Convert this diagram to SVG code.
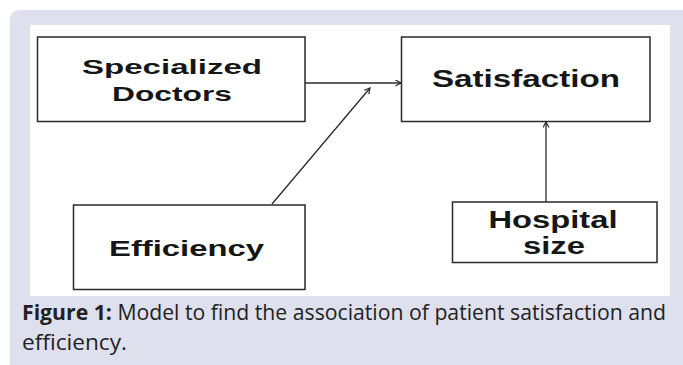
<svg xmlns="http://www.w3.org/2000/svg" width="683" height="365" viewBox="0 0 683 365">
  <defs>
    <style>
      .box { fill: #ffffff; stroke: #2a2a2a; stroke-width: 1.5; }
      .lbl { font-family: "Liberation Sans", Arial, sans-serif; font-weight: bold; fill: #161616; text-anchor: middle; }
      .edge { fill: none; stroke: #2a2a2a; stroke-width: 1.3; }
      .cap { font-family: "Open Sans", "Noto Sans", sans-serif; font-size: 21px; fill: #222222; }
    </style>
    <marker id="arrow" markerWidth="8" markerHeight="8" refX="6" refY="3.5" orient="auto" markerUnits="userSpaceOnUse">
      <path d="M0.5,0.5 L6,3.5 L0.5,6.5" fill="none" stroke="#2a2a2a" stroke-width="1.2"/>
    </marker>
  </defs>

  <!-- page and figure panel -->
  <rect x="0" y="0" width="683" height="365" fill="#ffffff"/>
  <path d="M10,20 Q10,10 20,10 L683,10 L683,365 L10,365 Z" fill="#dee0ee"/>
  <rect x="30" y="25" width="640" height="271" fill="#ffffff"/>

  <!-- connectors -->
  <g id="connectors">
    <line class="edge" x1="305" y1="83" x2="401" y2="83" marker-end="url(#arrow)"/>
    <line class="edge" x1="272" y1="204" x2="370" y2="88" marker-end="url(#arrow)"/>
    <line class="edge" x1="546" y1="202" x2="546" y2="122" marker-end="url(#arrow)"/>
  </g>

  <!-- nodes -->
  <g id="specialized-doctors">
    <rect class="box" x="37.5" y="37" width="267.5" height="84.5"/>
    <text class="lbl" x="172" y="74" font-size="21" textLength="180" lengthAdjust="spacingAndGlyphs">Specialized</text>
    <text class="lbl" x="172" y="101" font-size="21" textLength="120" lengthAdjust="spacingAndGlyphs">Doctors</text>
  </g>

  <g id="satisfaction">
    <rect class="box" x="401.5" y="37" width="248.5" height="84.5"/>
    <text class="lbl" x="526" y="87" font-size="23" textLength="188" lengthAdjust="spacingAndGlyphs">Satisfaction</text>
  </g>

  <g id="efficiency">
    <rect class="box" x="73.5" y="205" width="231.5" height="84.5"/>
    <text class="lbl" x="186.5" y="256" font-size="22" textLength="155" lengthAdjust="spacingAndGlyphs">Efficiency</text>
  </g>

  <g id="hospital-size">
    <rect class="box" x="452.5" y="202" width="204.5" height="60.5"/>
    <text class="lbl" x="553" y="228" font-size="23" textLength="129" lengthAdjust="spacingAndGlyphs" fill="#101a33">Hospital</text>
    <text class="lbl" x="554" y="254" font-size="23" textLength="62" lengthAdjust="spacingAndGlyphs" fill="#101a33">size</text>
  </g>

  <!-- caption -->
  <text class="cap" x="22" y="320" textLength="644" lengthAdjust="spacingAndGlyphs"><tspan font-weight="bold">Figure 1:</tspan> Model to find the association of patient satisfaction and</text>
  <text class="cap" x="22" y="350" textLength="105" lengthAdjust="spacingAndGlyphs">efficiency.</text>
</svg>
